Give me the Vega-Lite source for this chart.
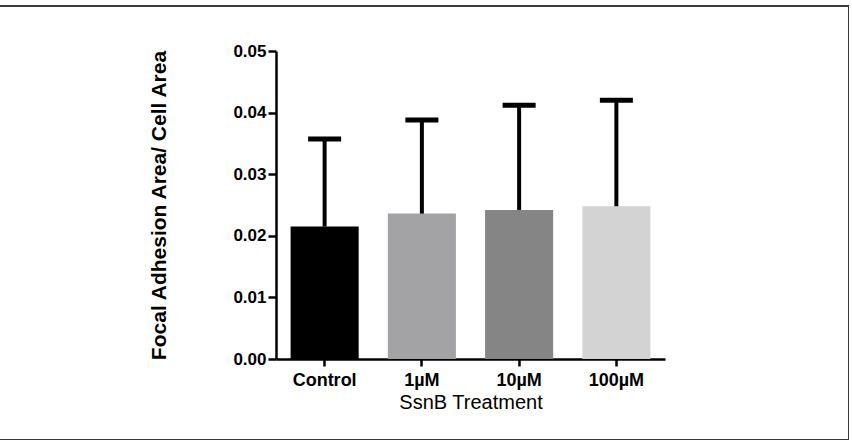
{
  "$schema": "https://vega.github.io/schema/vega-lite/v6.json",
  "width": 853,
  "height": 434,
  "autosize": {"type": "none"},
  "padding": {"left": -4, "top": 6, "right": 0, "bottom": 0},
  "background": "white",
  "config": {
    "view": {"stroke": "#3a3a3a", "strokeWidth": 2},
    "axis": {"grid": false, "domainColor": "black", "tickColor": "black", "labelColor": "black", "titleColor": "black", "labelFont": "Liberation Sans", "titleFont": "Liberation Sans"}
  },
  "data": {
    "values": [
      {"group": "Control", "mean": 0.0215, "upper": 0.0357},
      {"group": "1µM", "mean": 0.0236, "upper": 0.0388},
      {"group": "10µM", "mean": 0.0242, "upper": 0.0412},
      {"group": "100µM", "mean": 0.0248, "upper": 0.0420}
    ]
  },
  "encoding": {
    "x": {
      "field": "group",
      "type": "nominal",
      "sort": ["Control", "1µM", "10µM", "100µM"],
      "scale": {"range": [280, 669], "paddingInner": 0.3, "paddingOuter": 0.15},
      "axis": {
        "offset": -81,
        "labelAngle": 0,
        "labelFontWeight": "bold",
        "labelFontSize": 18,
        "labelPadding": 5,
        "tickSize": 7,
        "tickWidth": 2.5,
        "domainWidth": 2.5,
        "title": "SsnB Treatment",
        "titleFontSize": 20,
        "titleFontWeight": "normal",
        "titlePadding": 3
      }
    }
  },
  "layer": [
    {
      "mark": {"type": "bar"},
      "encoding": {
        "y": {
          "field": "mean",
          "type": "quantitative",
          "scale": {"domain": [0, 0.05], "range": [353, 45], "nice": false},
          "axis": {
            "offset": -280,
            "values": [0, 0.01, 0.02, 0.03, 0.04, 0.05],
            "format": ".2f",
            "labelFontWeight": "bold",
            "labelFontSize": 17,
            "labelPadding": 2,
            "tickSize": 8,
            "tickWidth": 2.5,
            "domainWidth": 2.5,
            "title": "Focal Adhesion Area/ Cell Area",
            "titleFontSize": 21,
            "titleFontWeight": "bold",
            "titlePadding": 63
          }
        },
        "color": {
          "field": "group",
          "type": "nominal",
          "sort": ["Control", "1µM", "10µM", "100µM"],
          "scale": {"domain": ["Control", "1µM", "10µM", "100µM"], "range": ["#000000", "#a3a3a6", "#858585", "#d3d3d3"]},
          "legend": null
        }
      }
    },
    {
      "mark": {"type": "rule", "strokeWidth": 4, "color": "black"},
      "encoding": {
        "y": {"field": "mean", "type": "quantitative"},
        "y2": {"field": "upper"}
      }
    },
    {
      "mark": {"type": "tick", "color": "black", "thickness": 5, "size": 33, "opacity": 1},
      "encoding": {
        "y": {"field": "upper", "type": "quantitative"}
      }
    }
  ]
}
